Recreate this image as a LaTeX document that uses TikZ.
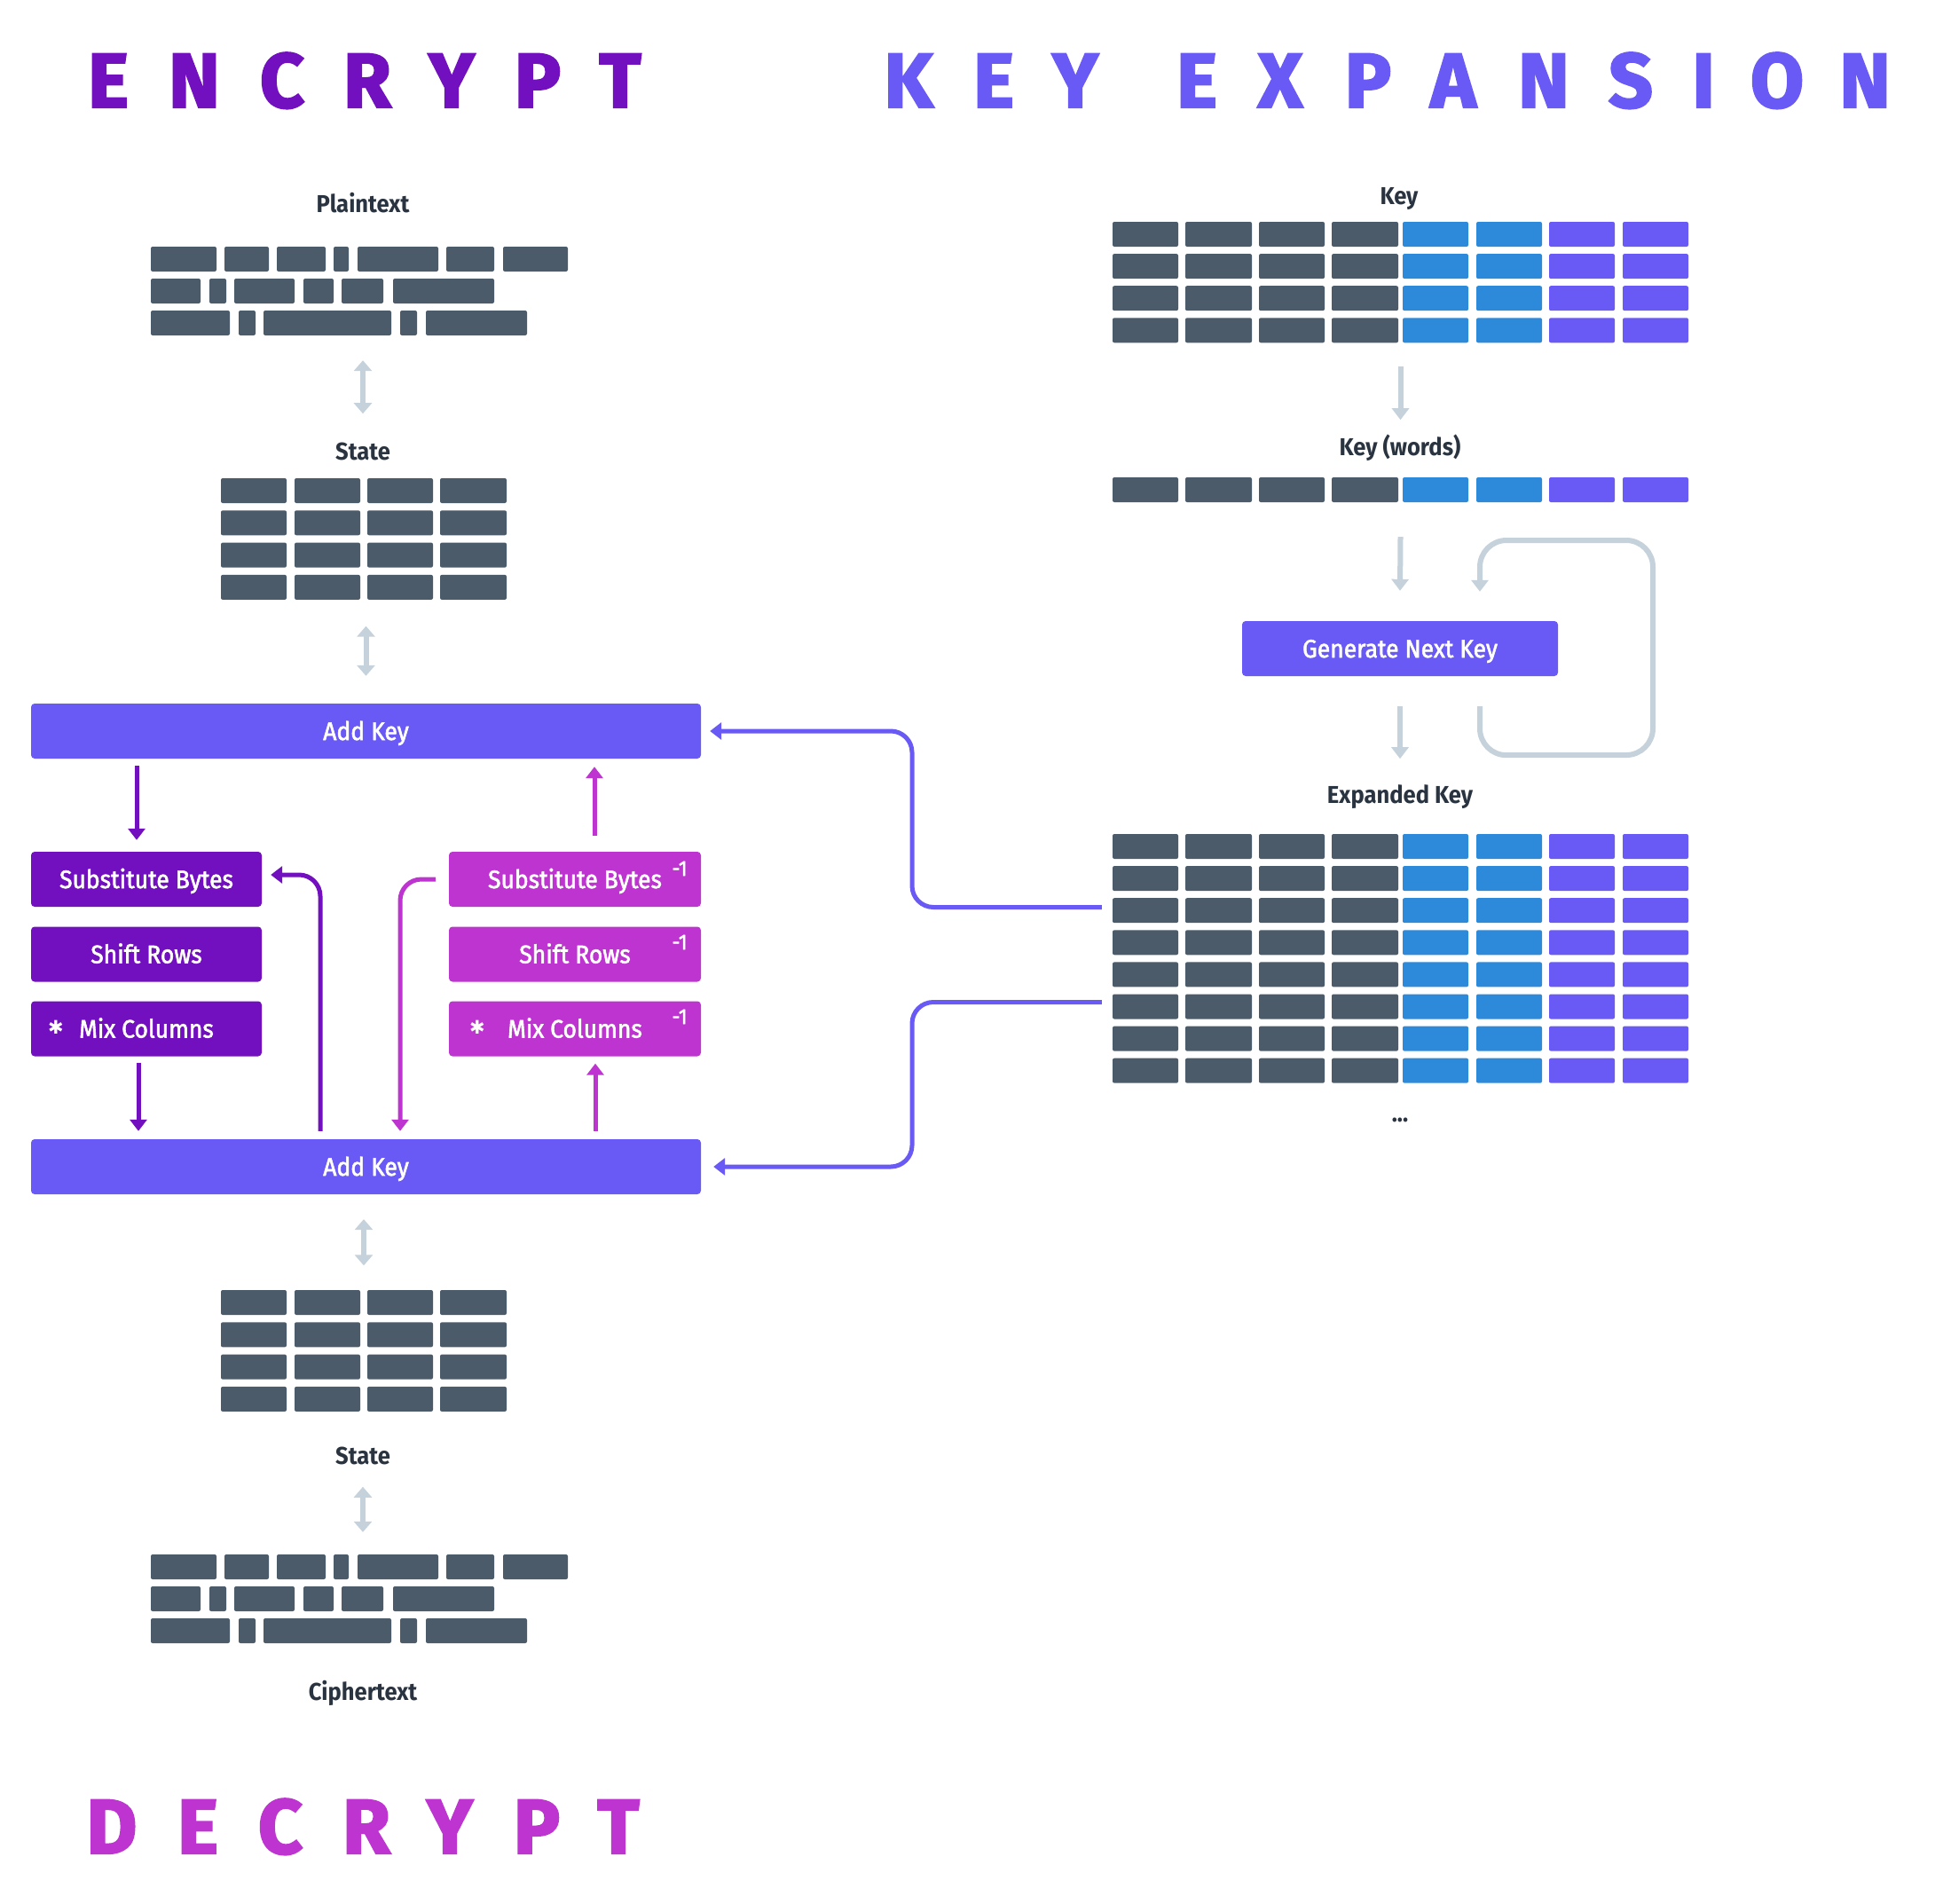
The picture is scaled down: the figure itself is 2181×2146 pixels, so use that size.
\documentclass[tikz,border=0pt]{standalone}
\usepackage{fontspec}
\setmainfont{Fira Sans}
\newfontfamily\titlefont{Fira Sans}[BoldFeatures={FakeBold=2.5}]
\newfontfamily\boxfont{Fira Sans}[FakeStretch=0.93,FakeBold=2]
\newfontfamily\labfont{Fira Sans}[FakeStretch=0.93]
\newfontfamily\symfont{DejaVu Sans}
\usetikzlibrary{arrows.meta,calc}
\definecolor{encp}{HTML}{7210C0}
\definecolor{keyv}{HTML}{6A5AF5}
\definecolor{decm}{HTML}{BE34D0}
\definecolor{cellg}{HTML}{4B5B6A}
\definecolor{cellb}{HTML}{2D89DA}
\definecolor{arrg}{HTML}{C5D1DB}
\definecolor{txtd}{HTML}{2A3441}
\newcommand{\bitblock}[1]{%
  \foreach \dy/\segs in {0/{170/244,253/303,312/367,376/393,403/494,503/557,567/640},
                         36/{170/226,236/255,264/332,342/376,385/432,443/557},
                         72/{170/259,269/288,297/441,451/470,480/594}} {
    \foreach \a/\b in \segs {
      \fill[cellg, rounded corners=2pt] (\a,#1+\dy) rectangle (\b,#1+\dy+28);
    }
  }
}
\newcommand{\stategrid}[1]{%
  \foreach \a/\b in {249/323,332/406,414/488,496/571} {
    \foreach \dy in {0,36.3,72.6,108.9} {
      \fill[cellg, rounded corners=2pt] (\a,#1+\dy) rectangle (\b,#1+\dy+28);
    }
  }
}
\newcommand{\keygrid}[2]{%
  \foreach \a/\b/\c in {1254/1328/cellg,1336/1411/cellg,1419/1493/cellg,1501/1576/cellg,
                        1581/1655/cellb,1664/1738/cellb,1746/1820/keyv,1829/1903/keyv} {
    \foreach \r in {1,...,#2} {
      \fill[\c, rounded corners=2pt] (\a,{#1+(\r-1)*36.1}) rectangle (\b,{#1+(\r-1)*36.1+28});
    }
  }
}
\begin{document}
\begin{tikzpicture}[x=1pt,y=-1pt,
  box/.style={rectangle, rounded corners=4pt, minimum height=62pt, inner sep=0pt,
    text=white, font=\boxfont\fontsize{28.5}{30}\selectfont, text height=20pt, text depth=0pt},
  encbox/.style={box, fill=encp, minimum width=260pt},
  decbox/.style={box, fill=decm, minimum width=284pt},
  keybox/.style={box, fill=keyv},
  lab/.style={font=\labfont\bfseries\fontsize{27.5}{30}\selectfont, text=txtd, anchor=base, inner sep=0pt},
  ttl/.style={font=\titlefont\bfseries\fontsize{87}{90}\selectfont, anchor=base, inner sep=0pt},
  sup1/.style={text=white, font=\boxfont\fontsize{24}{24}\selectfont, anchor=base, inner sep=0pt},
  astx/.style={text=white, font=\symfont\fontsize{21}{21}\selectfont, inner sep=0pt},
  ghost/.style={inner sep=0pt, draw=none},
  encarr/.style={draw=encp, line width=5pt, -{Triangle[width=19pt,length=13pt]}},
  decarr/.style={draw=decm, line width=5pt, -{Triangle[width=19pt,length=13pt]}},
  keyarr/.style={draw=keyv, line width=5pt, rounded corners=24pt, -{Triangle[width=19pt,length=13pt]}},
  garr/.style={draw=arrg, line width=6pt, -{Triangle[width=19pt,length=13pt]}},
  gdbl/.style={draw=arrg, line width=6pt, {Triangle[width=20pt,length=12pt]}-{Triangle[width=20pt,length=12pt]}}
]
\fill[white] (0,0) rectangle (2181,2146);
\useasboundingbox (0,0) rectangle (2181,2146);

% titles
\foreach \l/\x [count=\i] in {E/122,N/219,C/318,R/414,Y/509,P/606,T/699}
  \node[ttl, text=encp] (enc\i) at (\x,121) {\l};
\foreach \l/\x [count=\i] in {K/1024,E/1120,Y/1212,E/1349,X/1443,P/1542,A/1638,N/1740,S/1838,I/1920,O/2003,N/2102}
  \node[ttl, text=keyv] (kex\i) at (\x,121) {\l};
\foreach \l/\x [count=\i] in {D/126,E/223,C/316,R/413,Y/507,P/605,T/697}
  \node[ttl, text=decm] (dec\i) at (\x,2089) {\l};

% labels
\node[lab] (lplain) at (409,239) {Plaintext};
\node[lab] (lst1) at (409,518) {State};
\node[lab] (lst2) at (409,1650) {State};
\node[lab] (lcip) at (409,1916) {Ciphertext};
\node[lab] (lkey) at (1577,230) {Key};
\node[lab] (lkw) at (1578,513) {Key (words)};
\node[lab] (lexp) at (1578,905) {Expanded Key};
\node[lab] (ldots) at (1578,1264) {...};

% grids
\bitblock{278}
\bitblock{1752}
\stategrid{539}
\stategrid{1454}
\keygrid{250}{4}
\keygrid{538}{1}
\keygrid{940}{8}
\node[ghost, minimum width=470pt, minimum height=100pt] (plain) at (405,328) {};
\node[ghost, minimum width=470pt, minimum height=100pt] (cip) at (405,1802) {};
\node[ghost, minimum width=322pt, minimum height=137pt] (st1) at (410,607) {};
\node[ghost, minimum width=322pt, minimum height=137pt] (st2) at (410,1522) {};
\node[ghost, minimum width=649pt, minimum height=136pt] (keyg) at (1578.5,318) {};
\node[ghost, minimum width=649pt, minimum height=28pt] (kwg) at (1578.5,552) {};
\node[ghost, minimum width=649pt, minimum height=281pt] (expg) at (1578.5,1080.5) {};
\coordinate (e1) at ($(expg.west)+(-12,-58)$);
\coordinate (e2) at ($(expg.west)+(-12,49)$);

% boxes
\node[keybox, minimum width=755pt] (ak1) at (412.5,824) {Add Key};
\node[keybox, minimum width=755pt] (ak2) at (412.5,1315) {Add Key};
\node[encbox] (esb) at (165,991) {Substitute Bytes};
\node[encbox] (esr) at (165,1075.5) {Shift Rows};
\node[encbox] (emc) at (165,1159.5) {Mix Columns};
\node[decbox] (dsb) at (648,991) {Substitute Bytes};
\node[decbox] (dsr) at (648,1075.5) {Shift Rows};
\node[decbox] (dmc) at (648,1159.5) {Mix Columns};
\node[keybox, minimum width=356pt] (gen) at (1578,731) {Generate Next Key};
\node[astx] (ast1) at (63,1158) {✱};
\node[astx] (ast2) at (538,1158) {✱};
\node[sup1] (s1) at (766,987) {-1};
\node[sup1] (s2) at (766,1070) {-1};
\node[sup1] (s3) at (766,1154) {-1};

% gray arrows
\draw[gdbl] ($(plain.south)+(4,28)$) -- ($(plain.south)+(4,88)$);
\draw[gdbl] ($(st1.south -| ak1.north)+(0,30)$) -- ($(ak1.north)+(0,-31)$);
\draw[gdbl] ($(ak2.south -| st2.north)+(0,28)$) -- ($(st2.north)+(0,-27)$);
\draw[gdbl] ($(cip.north)+(4,-76)$) -- ($(cip.north)+(4,-25)$);
\draw[garr] ($(keyg.south)+(0,27)$) -- ($(keyg.south)+(0,87)$);
\draw[garr] ($(kwg.south)+(0,39)$) -- ($(gen.north)+(0,-34)$);
\draw[garr] ($(gen.south)+(0,34)$) -- ($(gen.south)+(0,93)$);
\draw[garr, rounded corners=30pt] ($(gen.south)+(90,34)$) -- ($(gen.south)+(90,89)$) -- (1863,851) -- (1863,609) -- (1668,609) -- ($(gen.north)+(90,-33)$);

% encrypt arrows
\draw[encarr, shorten <=8pt, shorten >=13pt] (ak1.south -| 154,0) -- (esb.north -| 154,0);
\draw[encarr, shorten <=7pt, shorten >=9pt] (emc.south -| 156,0) -- (ak2.north -| 156,0);
\draw[encarr, rounded corners=24pt, shorten <=9pt, shorten >=10pt] (ak2.north -| 361,0) -- (361,986) -- (esb.east |- 0,986);

% decrypt arrows
\draw[decarr, shorten <=18pt, shorten >=9pt] (dsb.north -| 670,0) -- (ak1.south -| 670,0);
\draw[decarr, shorten <=9pt, shorten >=8pt] (ak2.north -| 671,0) -- (dmc.south -| 671,0);
\draw[decarr, rounded corners=24pt, shorten <=15pt, shorten >=9pt] (dsb.west |- 0,991) -- (451,991) -- (ak2.north -| 451,0);

% key connectors
\draw[keyarr] (e1) -- (e1 -| 1028,0) -- (1028,824) -- ([xshift=10pt]ak1.east);
\draw[keyarr] (e2) -- (e2 -| 1028,0) -- (1028,1315) -- ([xshift=14pt]ak2.east);
\end{tikzpicture}
\end{document}
